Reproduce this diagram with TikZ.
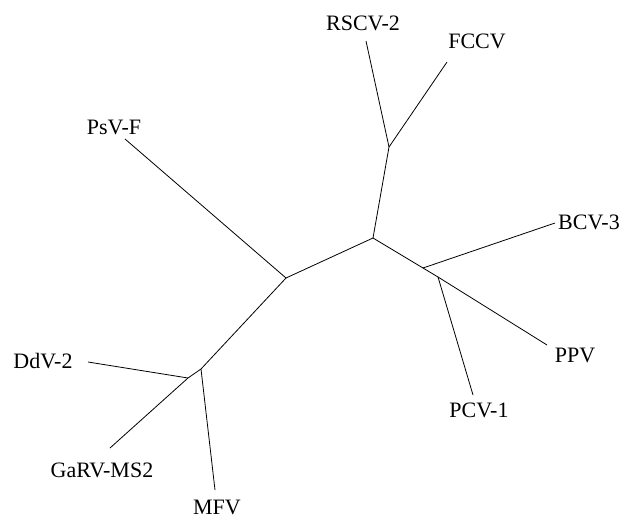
\documentclass[tikz,border=0pt]{standalone}
\usepackage{fontspec}
\setmainfont{Liberation Serif}
\begin{document}
\begin{tikzpicture}[x=1pt,y=-1pt,
  branch/.style={line width=0.8pt},
  leaf/.style={inner sep=0pt,font=\fontsize{22}{26}\selectfont}]
\useasboundingbox (0,0) rectangle (628,519);
% junctions
\coordinate (A) at (286,278);
\coordinate (B) at (373,238);
\coordinate (C) at (389,147);
\coordinate (D) at (423,268);
\coordinate (E) at (438,277);
\coordinate (F) at (201,369);
\coordinate (G) at (188,378);
% leaf ends
\coordinate (rscv) at (366,41);
\coordinate (fccv) at (447,62);
\coordinate (psv) at (125,139);
\coordinate (bcv) at (555,223);
\coordinate (ppv) at (547,345);
\coordinate (pcv) at (473,395);
\coordinate (ddv) at (88,362);
\coordinate (garv) at (110,448);
\coordinate (mfv) at (215,490);
% labels
\node[leaf] (lrscv) at (363,23) {RSCV-2};
\node[leaf] (lfccv) at (477,41) {FCCV};
\node[leaf] (lpsv) at (114,127) {PsV-F};
\node[leaf] (lbcv) at (589,222) {BCV-3};
\node[leaf] (lppv) at (575,355) {PPV};
\node[leaf] (lpcv) at (479,410) {PCV-1};
\node[leaf] (lddv) at (43,361) {DdV-2};
\node[leaf] (lgarv) at (102,470) {GaRV-MS2};
\node[leaf] (lmfv) at (217,507) {MFV};
% branches
\draw[branch] (psv) -- (A) -- (B) -- (C) -- (rscv);
\draw[branch] (C) -- (fccv);
\draw[branch] (B) -- (D) -- (E) -- (ppv);
\draw[branch] (D) -- (bcv);
\draw[branch] (E) -- (pcv);
\draw[branch] (A) -- (F) -- (G) -- (garv);
\draw[branch] (G) -- (ddv);
\draw[branch] (F) -- (mfv);
\end{tikzpicture}
\end{document}
